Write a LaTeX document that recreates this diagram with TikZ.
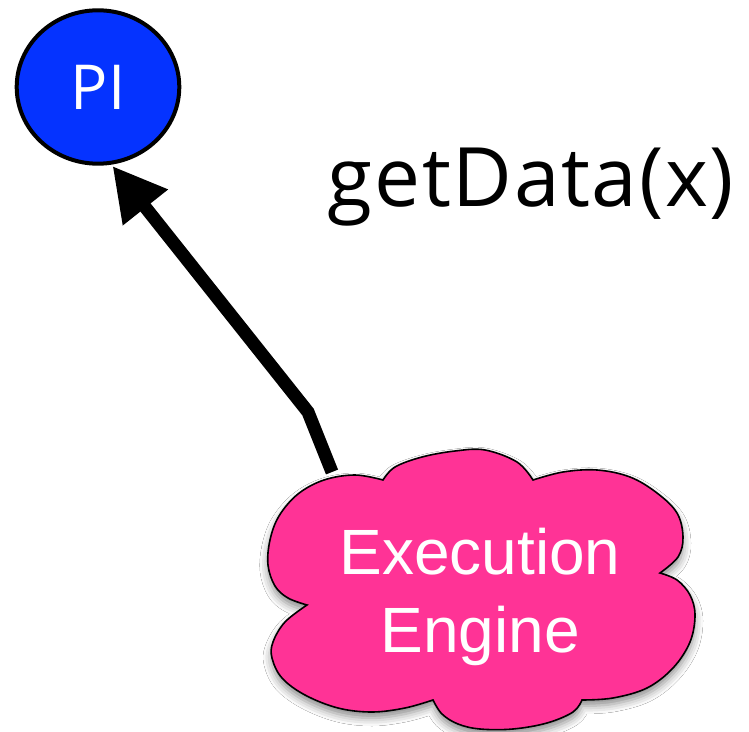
\documentclass[tikz,border=0pt]{standalone}
\usepackage{fontspec}
\setmainfont{Liberation Sans}
\newfontfamily\humanist{Open Sans}
\newfontfamily\humanistwide[LetterSpace=2]{Open Sans}
\usetikzlibrary{arrows.meta,shapes.geometric,shadows.blur}
\definecolor{piblue}{RGB}{5,51,255}
\definecolor{enginepink}{RGB}{255,51,150}
\tikzset{
  pinode/.style={ellipse, draw=black, line width=2pt, fill=piblue, text=white,
    inner sep=0pt, outer sep=0pt, minimum width=81.3pt, minimum height=76.7pt,
    font=\humanist\fontsize{31}{37}\selectfont},
  callarrow/.style={line width=6.5pt, -{Triangle[length=26.5pt,width=27pt,fill=black]}, shorten >=2pt},
  cloudshape/.style={draw=black, line width=0.8pt, fill=enginepink,
    blur shadow={shadow xshift=0pt, shadow yshift=-3pt, shadow blur radius=4pt, shadow opacity=45}},
  enginetext/.style={text=white, align=center, inner sep=0pt,
    font=\fontsize{32}{39}\selectfont},
  calltext/.style={inner sep=0pt, font=\humanistwide\fontsize{41}{49}\selectfont}
}
\begin{document}
\begin{tikzpicture}[x=0.5pt, y=-0.5pt]
  \fill[white] (0,0) rectangle (749,732);
  \useasboundingbox (0,0) rectangle (749,732);

  % the execution engine cloud, one puff at a time
  \draw[cloudshape]
    plot[smooth, tension=0.6] coordinates {(307,605) (288,598) (275,586) (268,565) (270,540) (279,516) (298,494) (324,480) (355,475) (383,480)}
    -- plot[smooth, tension=0.6] coordinates {(383,480) (395,467) (422,457) (455,451) (485,450) (517,462) (533,480)}
    -- plot[smooth, tension=0.6] coordinates {(533,480) (563,472) (597,470) (630,477) (657,493) (677,513) (683,537) (678,557) (660,573)}
    -- plot[smooth, tension=0.6] coordinates {(660,573) (677,580) (690,595) (695,615) (690,642) (673,668) (647,688) (613,698) (582,700)}
    -- plot[smooth, tension=0.6] coordinates {(582,700) (573,712) (547,723) (513,729) (480,729) (458,724) (442,714) (433,700)}
    -- plot[smooth, tension=0.6] coordinates {(433,700) (405,708) (372,712) (338,708) (305,695) (282,678) (272,658) (273,642) (285,622) (307,605)}
    -- cycle;

  % base anchor of a two-line node sits on the last line
  \node[enginetext, anchor=base] (engine) at (480,652) {Execution\\Engine};

  \node[pinode] (pi) at (98,87) {PI};

  \node[calltext, anchor=base] (call) at (531,207) {getData(x)};

  \coordinate (src) at (332,472);
  \coordinate (bend) at (308,412);
  \draw[callarrow] (src) -- (bend) -- (pi.-81);
\end{tikzpicture}
\end{document}
